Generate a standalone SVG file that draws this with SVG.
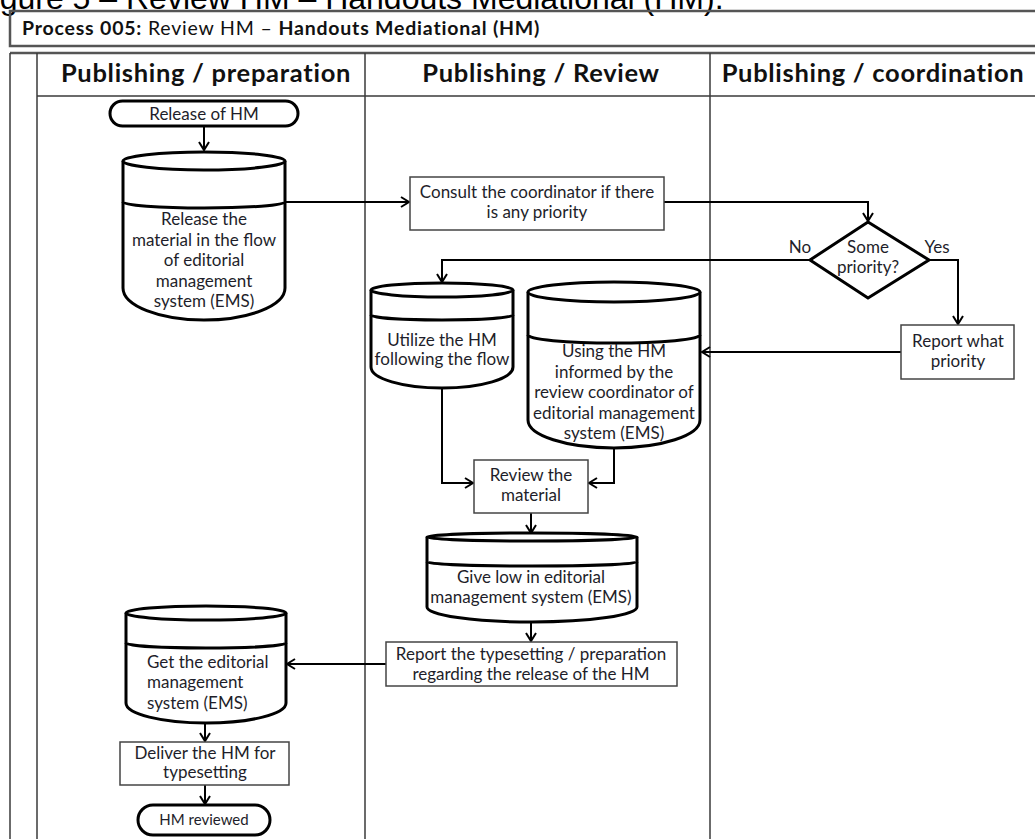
<svg xmlns="http://www.w3.org/2000/svg" width="1035" height="839" viewBox="0 0 1035 839">
<defs>
<style>
.frame{fill:none;stroke:#3a3a3a;stroke-width:1.5}
.frame2{fill:none;stroke:#555;stroke-width:2.5}
.thick{fill:#fff;stroke:#000;stroke-width:3}
.box{fill:#fff;stroke:#444;stroke-width:1.5}
.conn{fill:none;stroke:#000;stroke-width:2}
.t{font-family:Lato,"Liberation Sans",sans-serif;font-size:17px;fill:#1e1e2a;text-anchor:middle}
.tl{text-anchor:start}
.hdr{font-family:Lato,"Liberation Sans",sans-serif;font-size:25.5px;letter-spacing:0.7px;font-weight:bold;fill:#111;text-anchor:middle}
.ttl{font-family:Lato,"Liberation Sans",sans-serif;font-size:19.5px;letter-spacing:0.8px;fill:#111}
.b{font-weight:bold}
.fig{font-family:"Liberation Sans",Arial,sans-serif;font-size:32px;fill:#000}
</style>
<marker id="arr" markerWidth="12" markerHeight="12" refX="10" refY="6" orient="auto" markerUnits="userSpaceOnUse">
<path d="M2,1 L10,6 L2,11" fill="none" stroke="#000" stroke-width="2"/>
</marker>
</defs>

<g id="caption">
<text class="fig" x="-27" y="9">Figure 5 – Review HM – Handouts Mediational (HM).</text>
</g>

<g id="frame">
<rect class="frame2" x="10" y="11" width="1040" height="35"/>
<text class="ttl" x="22" y="35"><tspan class="b">Process 005:</tspan> Review HM – <tspan class="b">Handouts Mediational (HM)</tspan></text>
<line class="frame2" x1="10" y1="53" x2="1040" y2="53"/>
<line class="frame" x1="10" y1="53" x2="10" y2="845"/>
<line class="frame" x1="37" y1="53" x2="37" y2="845"/>
<line class="frame" x1="365" y1="53" x2="365" y2="845"/>
<line class="frame" x1="710" y1="53" x2="710" y2="845"/>
<line class="frame" x1="37" y1="96" x2="1040" y2="96"/>
<text class="hdr" x="206" y="82">Publishing / preparation</text>
<text class="hdr" x="541" y="82">Publishing / Review</text>
<text class="hdr" x="873" y="82">Publishing / coordination</text>
</g>

<g id="connectors">
<path class="conn" d="M204,126 L204,150" marker-end="url(#arr)"/>
<path class="conn" d="M285,202 L409,202" marker-end="url(#arr)"/>
<path class="conn" d="M664,202 L868,202 L868,221" marker-end="url(#arr)"/>
<path class="conn" d="M810,260 L442,260 L442,282" marker-end="url(#arr)"/>
<path class="conn" d="M929,260 L958,260 L958,324" marker-end="url(#arr)"/>
<path class="conn" d="M901,352 L702,352" marker-end="url(#arr)"/>
<path class="conn" d="M442,388 L442,483 L473,483" marker-end="url(#arr)"/>
<path class="conn" d="M614,448 L614,483 L589,483" marker-end="url(#arr)"/>
<path class="conn" d="M531,513 L531,533" marker-end="url(#arr)"/>
<path class="conn" d="M531,622 L531,641" marker-end="url(#arr)"/>
<path class="conn" d="M386,664 L287,664" marker-end="url(#arr)"/>
<path class="conn" d="M205,723 L205,741" marker-end="url(#arr)"/>
<path class="conn" d="M205,785 L205,804" marker-end="url(#arr)"/>
<text class="t" x="800" y="253">No</text>
<text class="t" x="937" y="253">Yes</text>
</g>

<g id="release-of-hm">
<rect class="thick" x="110" y="101" width="188" height="25" rx="12.5"/>
<text class="t" x="204" y="120">Release of HM</text>
</g>

<g id="release-material">
<path class="thick" d="M123,161 L123,288 A81,32 0 0 0 285,288 L285,161"/>
<ellipse class="thick" cx="204" cy="161" rx="81" ry="9"/>
<path class="thick" fill="none" d="M123,202 A81,6 0 0 0 285,202"/>
<text class="t" x="204" y="225">Release the</text>
<text class="t" x="204" y="245.5">material in the flow</text>
<text class="t" x="204" y="266">of editorial</text>
<text class="t" x="204" y="286.5">management</text>
<text class="t" x="204" y="307">system (EMS)</text>
</g>

<g id="consult">
<rect class="box" x="410" y="177" width="254" height="53"/>
<text class="t" x="537" y="198">Consult the coordinator if there</text>
<text class="t" x="537" y="218">is any priority</text>
</g>

<g id="some-priority">
<polygon class="thick" points="868,222 929,260 868,298 810,260"/>
<text class="t" x="868" y="253">Some</text>
<text class="t" x="868" y="273">priority?</text>
</g>

<g id="report-priority">
<rect class="box" x="901" y="325" width="113" height="54"/>
<text class="t" x="958" y="347">Report what</text>
<text class="t" x="958" y="367">priority</text>
</g>

<g id="utilize">
<path class="thick" d="M371,290 L371,367 A71,21 0 0 0 513,367 L513,290"/>
<ellipse class="thick" cx="442" cy="290" rx="71" ry="7"/>
<path class="thick" fill="none" d="M371,315 A71,5 0 0 0 513,315"/>
<text class="t" x="442" y="346">Utilize the HM</text>
<text class="t" x="442" y="365">following the flow</text>
</g>

<g id="using-hm">
<path class="thick" d="M528,292 L528,420 A86,28 0 0 0 700,420 L700,292"/>
<ellipse class="thick" cx="614" cy="292" rx="86" ry="10"/>
<path class="thick" fill="none" d="M528,335 A86,8 0 0 0 700,335"/>
<text class="t" x="614" y="357">Using the HM</text>
<text class="t" x="614" y="377.5">informed by the</text>
<text class="t" x="614" y="398">review coordinator of</text>
<text class="t" x="614" y="418.5">editorial management</text>
<text class="t" x="614" y="439">system (EMS)</text>
</g>

<g id="review-material">
<rect class="box" x="474" y="460" width="114" height="53"/>
<text class="t" x="531" y="481">Review the</text>
<text class="t" x="531" y="501">material</text>
</g>

<g id="give-low">
<path class="thick" d="M427,537 L427,607 A105,15 0 0 0 637,607 L637,537"/>
<ellipse class="thick" cx="532" cy="537" rx="105" ry="4"/>
<path class="thick" fill="none" d="M427,562 A105,4 0 0 0 637,562"/>
<text class="t" x="531" y="583">Give low in editorial</text>
<text class="t" x="531" y="603">management system (EMS)</text>
</g>

<g id="report-typesetting">
<rect class="box" x="386" y="642" width="291" height="44"/>
<text class="t" x="531" y="660">Report the typesetting / preparation</text>
<text class="t" x="531" y="680">regarding the release of the HM</text>
</g>

<g id="get-editorial">
<path class="thick" d="M126,613 L126,703 A80,20 0 0 0 286,703 L286,613"/>
<ellipse class="thick" cx="206" cy="613" rx="80" ry="7"/>
<path class="thick" fill="none" d="M126,643 A80,5 0 0 0 286,643"/>
<text class="t tl" x="147" y="668">Get the editorial</text>
<text class="t tl" x="147" y="688">management</text>
<text class="t tl" x="147" y="709">system (EMS)</text>
</g>

<g id="deliver">
<rect class="box" x="120" y="742" width="169" height="43"/>
<text class="t" x="205" y="759">Deliver the HM for</text>
<text class="t" x="205" y="778">typesetting</text>
</g>

<g id="hm-reviewed">
<rect class="thick" x="138" y="805" width="132" height="30" rx="15"/>
<text class="t" x="204" y="825" style="font-size:15px">HM reviewed</text>
</g>
</svg>
